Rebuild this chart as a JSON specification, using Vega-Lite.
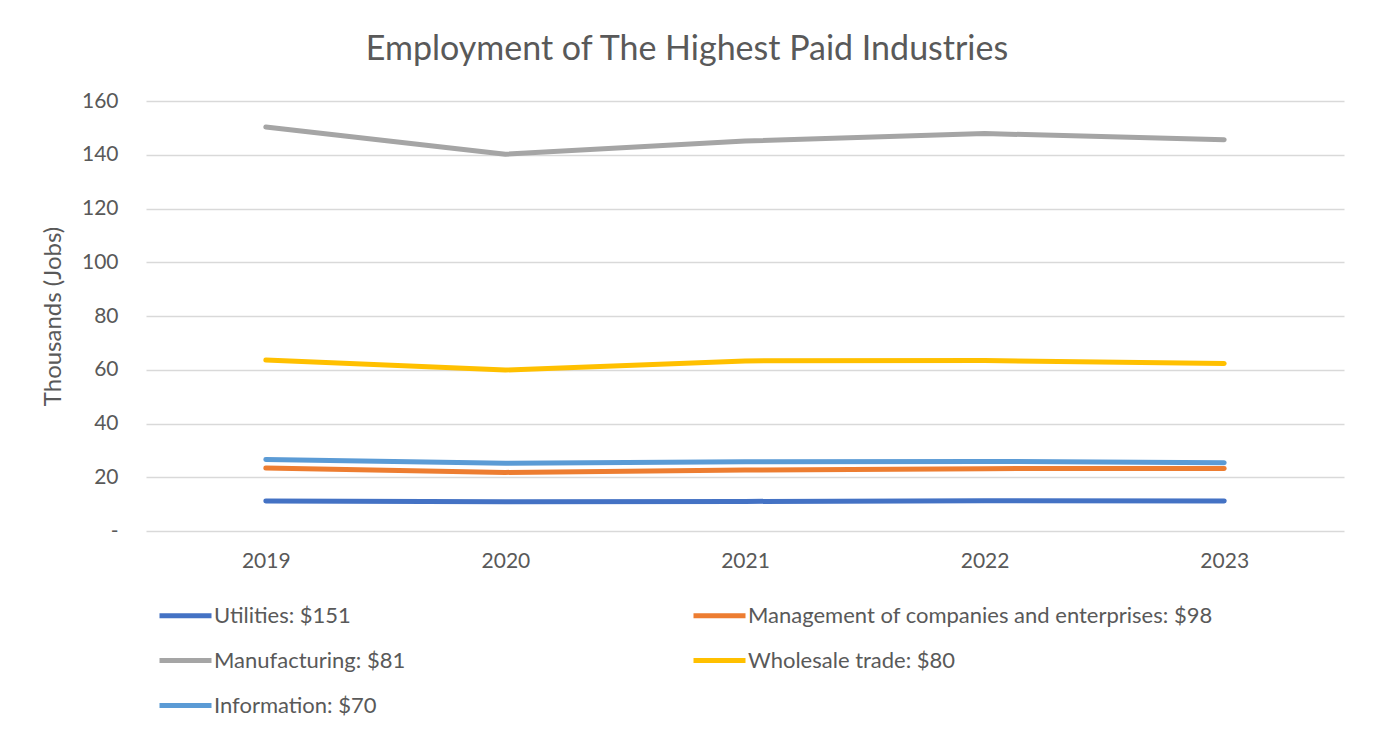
{
  "$schema": "https://vega.github.io/schema/vega-lite/v6.json",
  "autosize": {"type": "none"},
  "width": 1198,
  "height": 430,
  "padding": {"left": 146, "top": 101, "right": 29, "bottom": 208},
  "background": "white",
  "title": {"text": "Employment of The Highest Paid Industries", "font": "Lato", "fontSize": 34, "fontWeight": "normal", "color": "#595959", "anchor": "middle", "dx": -58, "offset": 23},
  "config": {"view": {"stroke": null}},
  "data": {"values": [
    {"year": "2019", "industry": "Utilities: $151", "value": 11.2},
    {"year": "2020", "industry": "Utilities: $151", "value": 10.9},
    {"year": "2021", "industry": "Utilities: $151", "value": 11.0},
    {"year": "2022", "industry": "Utilities: $151", "value": 11.3},
    {"year": "2023", "industry": "Utilities: $151", "value": 11.2},
    {"year": "2019", "industry": "Management of companies and enterprises: $98", "value": 23.4},
    {"year": "2020", "industry": "Management of companies and enterprises: $98", "value": 21.8},
    {"year": "2021", "industry": "Management of companies and enterprises: $98", "value": 22.7},
    {"year": "2022", "industry": "Management of companies and enterprises: $98", "value": 23.2},
    {"year": "2023", "industry": "Management of companies and enterprises: $98", "value": 23.3},
    {"year": "2019", "industry": "Manufacturing: $81", "value": 150.3},
    {"year": "2020", "industry": "Manufacturing: $81", "value": 140.2},
    {"year": "2021", "industry": "Manufacturing: $81", "value": 145.1},
    {"year": "2022", "industry": "Manufacturing: $81", "value": 147.9},
    {"year": "2023", "industry": "Manufacturing: $81", "value": 145.6},
    {"year": "2019", "industry": "Wholesale trade: $80", "value": 63.6},
    {"year": "2020", "industry": "Wholesale trade: $80", "value": 59.9},
    {"year": "2021", "industry": "Wholesale trade: $80", "value": 63.3},
    {"year": "2022", "industry": "Wholesale trade: $80", "value": 63.4},
    {"year": "2023", "industry": "Wholesale trade: $80", "value": 62.3},
    {"year": "2019", "industry": "Information: $70", "value": 26.6},
    {"year": "2020", "industry": "Information: $70", "value": 25.2},
    {"year": "2021", "industry": "Information: $70", "value": 25.8},
    {"year": "2022", "industry": "Information: $70", "value": 25.9},
    {"year": "2023", "industry": "Information: $70", "value": 25.4}
  ]},
  "mark": {"type": "line", "strokeWidth": 5, "strokeCap": "round", "strokeJoin": "round"},
  "encoding": {
    "x": {"field": "year", "type": "ordinal", "scale": {"type": "point", "padding": 0.5},
      "axis": {"title": null, "labelAngle": 0, "domain": false, "ticks": false, "grid": false, "labelPadding": 19, "labelFont": "Lato", "labelFontSize": 21, "labelColor": "#595959"}},
    "y": {"field": "value", "type": "quantitative", "scale": {"domain": [0, 160], "nice": false},
      "axis": {"title": "Thousands (Jobs)", "values": [0, 20, 40, 60, 80, 100, 120, 140, 160], "domain": false, "ticks": false, "gridColor": "#D9D9D9", "gridWidth": 1.5, "labelPadding": 28, "labelExpr": "datum.value == 0 ? '-\u00a0\u00a0' : datum.label", "labelFont": "Lato", "labelFontSize": 21, "labelColor": "#595959", "titleFont": "Lato", "titleFontSize": 24, "titleFontWeight": "normal", "titleColor": "#595959", "titlePadding": 16}},
    "color": {"field": "industry", "type": "nominal",
      "scale": {"domain": ["Utilities: $151", "Management of companies and enterprises: $98", "Manufacturing: $81", "Wholesale trade: $80", "Information: $70"],
        "range": ["#4472C4", "#ED7D31", "#A5A5A5", "#FFC000", "#5B9BD5"]},
      "legend": {"title": null, "orient": "none", "legendX": 11, "legendY": 486, "direction": "horizontal", "columns": 2, "symbolType": "stroke", "symbolStrokeWidth": 5, "symbolSize": 2704, "labelOffset": 0, "labelFont": "Lato", "labelFontSize": 22, "labelColor": "#595959", "labelLimit": 700, "rowPadding": 5, "columnPadding": 277}}
  }
}
